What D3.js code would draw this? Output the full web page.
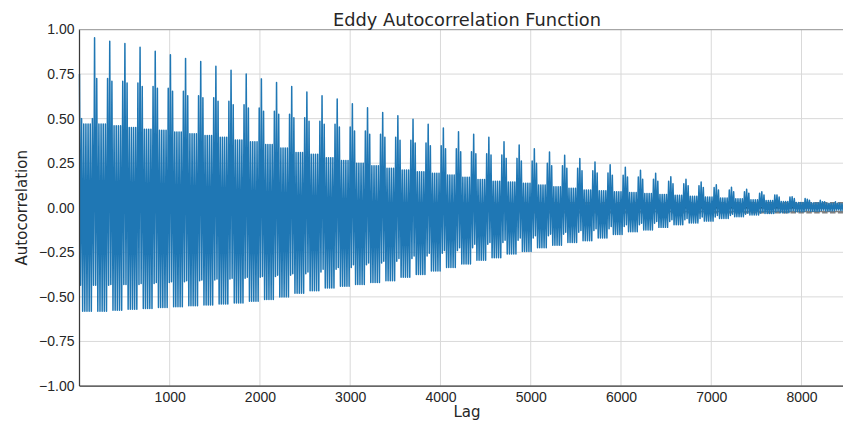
<!DOCTYPE html>
<html>
<head>
<meta charset="utf-8">
<script src="https://cdn.jsdelivr.net/npm/d3@7"></script>
<style>
  body { margin: 0; background: #fff; }
  svg { display: block; font-family: "DejaVu Sans", sans-serif; }
  .axis text { font-size: 14px; fill: #262626; }
  .axis path { display: none; }
  .grid line { stroke: #d9d9d9; stroke-width: 1; }
</style>
</head>
<body>
<svg id="chart"></svg>
<script>
// Values, one entry per weekly cycle (lag = 168 * week)
const weekIndex = d3.range(0, 52);
const lagsPerWeek = 168;
const lastLag = 8587;

// height of the weekly spike (lag 168k)
const spikeTop = [0.75, 0.954, 0.934, 0.921, 0.900, 0.878, 0.858, 0.838, 0.821, 0.794,
  0.772, 0.750, 0.723, 0.703, 0.680, 0.650, 0.628, 0.610, 0.583, 0.561,
  0.535, 0.516, 0.496, 0.469, 0.447, 0.426, 0.412, 0.395, 0.370, 0.352,
  0.331, 0.313, 0.294, 0.276, 0.257, 0.241, 0.227, 0.210, 0.193, 0.174,
  0.160, 0.145, 0.129, 0.115, 0.104, 0.090, 0.072, 0.062, 0.048, 0.034,
  0.025, 0.020];
// daily peaks right next to the spike (lag 168k +/- 24)
const shoulderTop = [0.50, 0.725, 0.710, 0.700, 0.680, 0.670, 0.653, 0.628, 0.617, 0.597,
  0.578, 0.559, 0.542, 0.524, 0.505, 0.485, 0.468, 0.453, 0.430, 0.412,
  0.395, 0.378, 0.363, 0.348, 0.331, 0.314, 0.303, 0.296, 0.277, 0.262,
  0.249, 0.236, 0.221, 0.208, 0.195, 0.183, 0.172, 0.160, 0.148, 0.135,
  0.124, 0.113, 0.100, 0.090, 0.082, 0.072, 0.060, 0.052, 0.042, 0.033,
  0.025, 0.020];
// the other daily peaks of the week
const dayTop = [0.47, 0.47, 0.46, 0.45, 0.44, 0.435, 0.425, 0.415, 0.405, 0.395,
  0.38, 0.37, 0.355, 0.335, 0.31, 0.30, 0.28, 0.265, 0.25, 0.235,
  0.222, 0.212, 0.202, 0.193, 0.184, 0.171, 0.158, 0.148, 0.144, 0.137,
  0.128, 0.118, 0.109, 0.10, 0.095, 0.09, 0.085, 0.08, 0.075, 0.07,
  0.065, 0.06, 0.055, 0.05, 0.045, 0.04, 0.035, 0.03, 0.028, 0.025,
  0.022, 0.02];
// troughs beside the spike (lag 168k +/- 12)
const shallowLow = [-0.435, -0.435, -0.43, -0.43, -0.425, -0.42, -0.415, -0.41, -0.405, -0.40,
  -0.395, -0.39, -0.385, -0.378, -0.37, -0.36, -0.345, -0.335, -0.32, -0.31,
  -0.30, -0.285, -0.27, -0.255, -0.24, -0.225, -0.205, -0.195, -0.182, -0.17,
  -0.157, -0.148, -0.137, -0.128, -0.118, -0.105, -0.095, -0.087, -0.077, -0.067,
  -0.06, -0.052, -0.043, -0.036, -0.03, -0.024, -0.02, -0.017, -0.015, -0.013,
  -0.012, -0.011];
// the other daily troughs of the week
const deepLow = [-0.58, -0.58, -0.575, -0.57, -0.565, -0.56, -0.555, -0.55, -0.545, -0.54,
  -0.535, -0.525, -0.515, -0.50, -0.48, -0.465, -0.45, -0.44, -0.43, -0.42,
  -0.41, -0.39, -0.375, -0.355, -0.335, -0.315, -0.295, -0.28, -0.26, -0.245,
  -0.225, -0.21, -0.195, -0.185, -0.17, -0.15, -0.135, -0.125, -0.11, -0.095,
  -0.085, -0.075, -0.06, -0.05, -0.04, -0.032, -0.028, -0.022, -0.02, -0.018,
  -0.016, -0.015];

// where each reading sits inside a week (lag offsets) and which series it comes from
const cycleOffsets = [0, 12, 24, 36, 48, 60, 72, 84, 96, 108, 120, 132, 144, 156];
const cycleSeries = [spikeTop, shallowLow, shoulderTop, deepLow, dayTop, deepLow, dayTop,
  deepLow, dayTop, deepLow, dayTop, deepLow, shoulderTop, shallowLow];

// confidence bands that pandas draws (99% dashed, 95% solid)
const band99 = [0.0278, -0.0278];
const band95 = [0.0211, -0.0211];

const lagTicks = [1000, 2000, 3000, 4000, 5000, 6000, 7000, 8000];
const corrTicks = [-1, -0.75, -0.5, -0.25, 0, 0.25, 0.5, 0.75, 1];

class AcfPlot {

  constructor(_config) {
    this.config = {
      parentElement: _config.parentElement,
      containerWidth: _config.containerWidth || 843,
      containerHeight: _config.containerHeight || 423,
      margin: _config.margin || {top: 29.5, right: -11.5, bottom: 37, left: 79.5}
    };
    this.initVis();
  }

  initVis() {
    let vis = this;

    vis.width = vis.config.containerWidth - vis.config.margin.left - vis.config.margin.right;
    vis.height = vis.config.containerHeight - vis.config.margin.top - vis.config.margin.bottom;

    vis.xScale = d3.scaleLinear()
        .domain([1, lastLag])
        .range([0, vis.width]);

    vis.yScale = d3.scaleLinear()
        .domain([-1, 1])
        .range([vis.height, 0]);

    vis.xAxis = d3.axisBottom(vis.xScale)
        .tickValues(lagTicks)
        .tickFormat(d3.format('d'))
        .tickSize(0)
        .tickPadding(6);

    vis.yAxis = d3.axisLeft(vis.yScale)
        .tickValues(corrTicks)
        .tickFormat(d3.format('.2f'))
        .tickSize(0)
        .tickPadding(5);

    vis.svg = d3.select(vis.config.parentElement)
        .attr('width', vis.config.containerWidth)
        .attr('height', vis.config.containerHeight);

    vis.chart = vis.svg.append('g')
        .attr('transform', `translate(${vis.config.margin.left},${vis.config.margin.top})`);

    vis.gridG = vis.chart.append('g').attr('class', 'grid');
    vis.refG = vis.chart.append('g').attr('class', 'ref-lines');
    vis.lineG = vis.chart.append('g').attr('class', 'acf');

    vis.xAxisG = vis.chart.append('g')
        .attr('class', 'axis x-axis')
        .attr('transform', `translate(0,${vis.height})`);

    vis.yAxisG = vis.chart.append('g')
        .attr('class', 'axis y-axis');

    // Title and axis labels
    vis.svg.append('text')
        .attr('x', vis.config.margin.left + vis.width / 2)
        .attr('y', 25.5)
        .attr('text-anchor', 'middle')
        .style('font-size', '17.8px')
        .style('fill', '#262626')
        .text('Eddy Autocorrelation Function');

    vis.svg.append('text')
        .attr('x', vis.config.margin.left + vis.width / 2)
        .attr('y', 417)
        .attr('text-anchor', 'middle')
        .style('font-size', '15px')
        .style('fill', '#262626')
        .text('Lag');

    vis.svg.append('text')
        .attr('transform', `translate(26.5,${vis.config.margin.top + vis.height / 2}) rotate(-90)`)
        .attr('text-anchor', 'middle')
        .style('font-size', '15px')
        .style('fill', '#262626')
        .text('Autocorrelation');

    vis.updateVis();
  }

  updateVis() {
    let vis = this;

    // Lay the weekly readings out along the lag axis
    vis.acfData = [];
    weekIndex.forEach(w => {
      cycleOffsets.forEach((off, i) => {
        const lag = Math.max(1, w * lagsPerWeek + off);
        if (lag <= lastLag) vis.acfData.push({lag: lag, r: cycleSeries[i][w]});
      });
    });

    vis.renderVis();
  }

  renderVis() {
    let vis = this;

    vis.gridG.selectAll('.vgrid')
        .data(lagTicks)
      .join('line')
        .attr('class', 'vgrid')
        .attr('x1', d => vis.xScale(d))
        .attr('x2', d => vis.xScale(d))
        .attr('y1', 0)
        .attr('y2', vis.height);

    vis.gridG.selectAll('.hgrid')
        .data(corrTicks)
      .join('line')
        .attr('class', 'hgrid')
        .attr('x1', 0)
        .attr('x2', vis.width)
        .attr('y1', d => vis.yScale(d))
        .attr('y2', d => vis.yScale(d));

    // reference lines drawn under the curve
    vis.refG.selectAll('.band99')
        .data(band99)
      .join('line')
        .attr('class', 'band99')
        .attr('x1', 0).attr('x2', vis.width)
        .attr('y1', d => vis.yScale(d)).attr('y2', d => vis.yScale(d))
        .attr('stroke', 'grey')
        .attr('stroke-width', 1.5)
        .attr('stroke-dasharray', '5.5,2.4');

    vis.refG.selectAll('.band95')
        .data(band95)
      .join('line')
        .attr('class', 'band95')
        .attr('x1', 0).attr('x2', vis.width)
        .attr('y1', d => vis.yScale(d)).attr('y2', d => vis.yScale(d))
        .attr('stroke', 'grey')
        .attr('stroke-width', 1.5);

    vis.refG.append('line')
        .attr('x1', 0).attr('x2', vis.width)
        .attr('y1', vis.yScale(0)).attr('y2', vis.yScale(0))
        .attr('stroke', 'black')
        .attr('stroke-width', 1.5);

    const line = d3.line()
        .x(d => vis.xScale(d.lag))
        .y(d => vis.yScale(d.r));

    vis.lineG.selectAll('path')
        .data([vis.acfData])
      .join('path')
        .attr('d', line)
        .attr('fill', 'none')
        .attr('stroke', '#1f77b4')
        .attr('stroke-width', 1.5)
        .attr('stroke-linejoin', 'round');

    vis.xAxisG.call(vis.xAxis);
    vis.yAxisG.call(vis.yAxis);

    // spines: dark left/bottom, light top
    vis.chart.append('line')
        .attr('x1', 0).attr('x2', 0).attr('y1', 0).attr('y2', vis.height)
        .attr('stroke', '#3a3a3a').attr('stroke-width', 1.25);
    vis.chart.append('line')
        .attr('x1', 0).attr('x2', vis.width).attr('y1', vis.height).attr('y2', vis.height)
        .attr('stroke', '#3a3a3a').attr('stroke-width', 1.25);
    vis.chart.append('line')
        .attr('x1', 0).attr('x2', vis.width).attr('y1', 0).attr('y2', 0)
        .attr('stroke', '#a6a6a6').attr('stroke-width', 1.25);
  }
}

new AcfPlot({parentElement: '#chart'});
</script>
</body>
</html>
